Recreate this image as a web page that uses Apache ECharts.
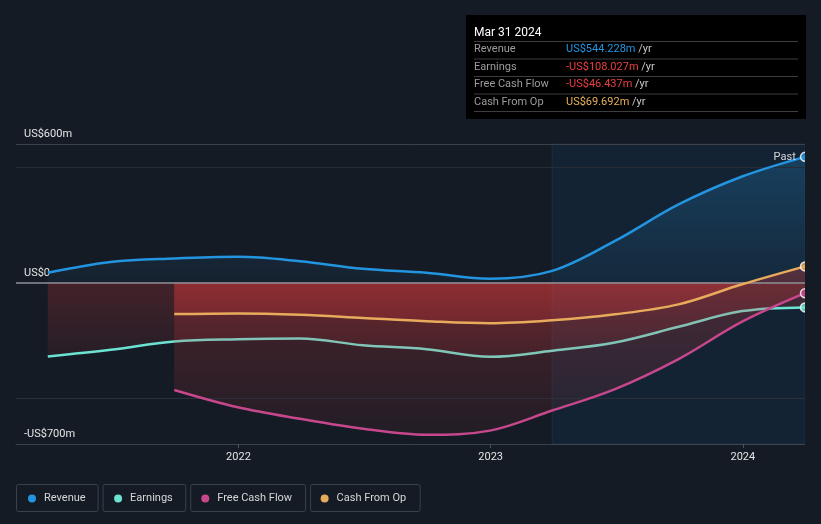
<!DOCTYPE html>
<html>
<head>
<meta charset="utf-8">
<script src="https://cdn.jsdelivr.net/npm/echarts@6/dist/echarts.min.js"></script>
<style>
html,body{margin:0;padding:0;background:#151b25;}
#chart{width:821px;height:524px;}
</style>
</head>
<body>
<div id="chart"></div>
<script>
// ---- data ----
const dates = ['2021-03-31','2021-06-30','2021-09-30','2021-12-31','2022-03-31','2022-06-30','2022-09-30','2022-12-31','2023-03-31','2023-06-30','2023-09-30','2023-12-31','2024-03-31'];
const revenue = [42, 89, 104, 111, 92, 59, 42, 16, 50, 180, 338, 459, 544.228];
const earnings = [-321, -292, -256, -246, -243, -272, -289, -322, -296, -260, -192, -124, -108.027];
const freeCashFlow = [null, null, -466, -541, -591, -634, -660, -642, -555, -462, -332, -170, -46.437];
const cashFromOp = [null, null, -137, -134, -140, -154, -168, -177, -164, -138, -95, -8, 69.692];
const seriesNames = ['Revenue', 'Earnings', 'Free Cash Flow', 'Cash From Op'];
const xRange = ['2021-02-13', '2024-03-31'];
const xTickDates = ['2022-01-01', '2023-01-01', '2024-01-01'];
const yTickLabels = {'600': 'US$600m', '0': 'US$0', '-700': '-US$700m'};
const yGridValues = [600, 500, -500];
const highlightRange = [dates[8], dates[12]];
const pastLabel = 'Past';
const tooltipTitle = 'Mar 31 2024';
const unitSuffix = '/yr';

// ---- helpers ----
function ts(s){ const p = s.split('-').map(Number); return new Date(p[0], p[1]-1, p[2]).getTime(); }
function pairs(arr){ return dates.map((d,i)=>[ts(d), arr[i] == null ? '-' : arr[i]]); }
function fmt(v){ return (v < 0 ? '-US$' : 'US$') + Math.abs(v).toFixed(3) + 'm'; }

const BG = '#151b25';
const colors = ['#2394df', '#6be2d2', '#c7478c', '#e8ab5c'];
const valueColors = ['#2394df', '#e8403f', '#e8403f', '#e8b35a'];
const allSeries = [revenue, earnings, freeCashFlow, cashFromOp];

const G = echarts.graphic;
const redGrad = (a0, a1) => new G.LinearGradient(0,0,0,1,[{offset:0,color:'rgba(228,58,58,' + a0 + ')'},{offset:1,color:'rgba(228,58,58,' + a1 + ')'}]);
const blueGrad = new G.LinearGradient(0,0,0,1,[{offset:0,color:'rgba(35,148,223,0.36)'},{offset:1,color:'rgba(35,148,223,0.07)'}]);
const areaAlpha = [null, [0.32, 0.11], [0.36, 0.09], [0.46, 0.26]];

function areaSeries(i, z, extra){
  return Object.assign({
    name: seriesNames[i], type:'line', data: pairs(allSeries[i]), smooth:0.35,
    showSymbol:false, symbol:'none', color: colors[i],
    lineStyle:{width:0, opacity:0},
    areaStyle:{origin:0, color: i===0 ? blueGrad : redGrad(areaAlpha[i][0], areaAlpha[i][1])},
    silent:true, z: z
  }, extra || {});
}
function lineSeries(i, z){
  return {
    name: seriesNames[i], type:'line', data: pairs(allSeries[i]), smooth:0.35,
    showSymbol:false, symbol:'none', color: colors[i],
    lineStyle:{width:2.5, color: colors[i]}, silent:true, z: z
  };
}
function dotSeries(i){
  const last = dates.length - 1;
  return {
    name: seriesNames[i], type:'scatter', z: 7, silent:true, color: colors[i],
    data: [[ts(dates[last]), allSeries[i][last]]],
    symbolSize: 9,
    itemStyle:{color: colors[i], borderColor:'#ffffff', borderWidth:1.5},
    label: i === 0 ? {show:true, position:'left', formatter: pastLabel, color:'#ffffff', fontSize:11, distance:4} : {show:false}
  };
}

const gridLineStyles = {'600':'#3b424c','500':'#262d37','-500':'#2a313b'};

const series = [
  areaSeries(0, 1, { markLine: { silent:true, symbol:['none','none'], label:{show:false}, animation:false,
      data: yGridValues.map(v => ({yAxis: v, lineStyle:{color: gridLineStyles[String(v)], width:1, type:'solid'}})) } }),
  areaSeries(1, 1),
  lineSeries(1, 2),
  areaSeries(2, 3),
  areaSeries(3, 3),
  { type:'line', data: pairs(revenue), symbol:'none', showSymbol:false, lineStyle:{opacity:0, width:0}, silent:true, z:4,
    markArea: { silent:true, itemStyle:{color:'rgba(20,70,110,0.2)', borderColor:'rgba(90,140,180,0.12)', borderWidth:1},
      data: [[{xAxis: ts(highlightRange[0])}, {xAxis: ts(highlightRange[1])}]] },
    markLine: { silent:true, symbol:['none','none'], label:{show:false},
      data: [{yAxis: 0, lineStyle:{color:'#8e9198', width:1.5, type:'solid'}}] } },
  lineSeries(0, 5),
  lineSeries(2, 5),
  lineSeries(3, 5),
  dotSeries(0), dotSeries(1), dotSeries(2), dotSeries(3)
];

// ---- legend boxes ----
const mctx = document.createElement('canvas').getContext('2d');
mctx.font = '11px Roboto';
let bx = 16;
const legendBoxes = seriesNames.map(n => {
  const w = mctx.measureText(n).width;
  const r = {type:'rect', left: bx, top: 484, silent:true, z: -1,
    shape:{width: w + 40, height: 27, r: 2},
    style:{fill:'transparent', stroke:'#3a414b', lineWidth:1}};
  bx += w + 45;
  return r;
});

// ---- info box ----
const info = [];
// right edge cover (markers are cut at the plot edge in the reference)
info.push({type:'rect', left:805, top:140, silent:true, z:100, shape:{width:16, height:310}, style:{fill: BG}});
info.push({type:'rect', left:466, top:15, silent:true, z:101, shape:{width:340, height:104}, style:{fill:'#000000'}});
info.push({type:'text', left:474, top:26.5, silent:true, z:102, style:{text: tooltipTitle, fill:'#ffffff', font:'12px Roboto'}});
const sepYs = [41, 58.5, 76, 93.5, 111];
sepYs.forEach(y => info.push({type:'rect', left:474, top:y, silent:true, z:102, shape:{width:324, height:1}, style:{fill:'#3d3d3d'}}));
seriesNames.forEach((n, i) => {
  const last = allSeries[i][allSeries[i].length - 1];
  const cy = (sepYs[i] + sepYs[i+1]) / 2 + 1.2;
  info.push({type:'text', left:474, top: cy - 7, silent:true, z:102, style:{text: n, fill:'#9c9c9c', font:'11px Roboto'}});
  info.push({type:'text', left:566, top: cy - 7, silent:true, z:102, style:{
    text: '{v|' + fmt(last) + '} {u|' + unitSuffix + '}', font:'11px Roboto',
    rich:{ v:{fill: valueColors[i], fontSize:11, fontFamily:'Roboto'}, u:{fill:'#c8c8c8', fontSize:11, fontFamily:'Roboto'} } }});
});

const option = {
  backgroundColor: BG,
  animation:false,
  textStyle:{fontFamily:'Roboto'},
  grid:{left:16, right:16, top:144, bottom:80},
  xAxis:{
    type:'value', min: ts(xRange[0]), max: ts(xRange[1]), scale:true,
    axisLine:{show:true, onZero:false, lineStyle:{color:'#3b424c', width:1}},
    axisTick:{show:true, customValues: xTickDates.map(ts), length:4, lineStyle:{color:'#4a515b'}},
    axisLabel:{customValues: xTickDates.map(ts), formatter: v => String(new Date(v).getFullYear()), color:'#e4e4e4', fontSize:11, margin:8},
    splitLine:{show:false}
  },
  yAxis:{
    type:'value', min:-700, max:600, interval:100,
    axisLine:{show:false}, axisTick:{show:false}, splitLine:{show:false},
    axisLabel:{inside:true, margin:8, verticalAlign:'bottom', padding:[0,0,4,0], color:'#e4e4e4', fontSize:11,
      showMinLabel:true, showMaxLabel:true,
      formatter: v => (yTickLabels[String(v)] !== undefined ? yTickLabels[String(v)] : '')}
  },
  legend:{
    data: seriesNames.map((n,i) => ({name:n, icon:'circle', itemStyle:{color: colors[i]}})),
    left:23, top:488, itemWidth:14, itemHeight:8, itemGap:28.5,
    textStyle:{color:'#d6d6d6', fontSize:11, fontFamily:'Roboto'},
    selectedMode:false
  },
  graphic: legendBoxes.concat(info),
  series: series
};

const chart = echarts.init(document.getElementById('chart'), null, {renderer:'canvas'});
chart.setOption(option);
</script>
</body>
</html>
